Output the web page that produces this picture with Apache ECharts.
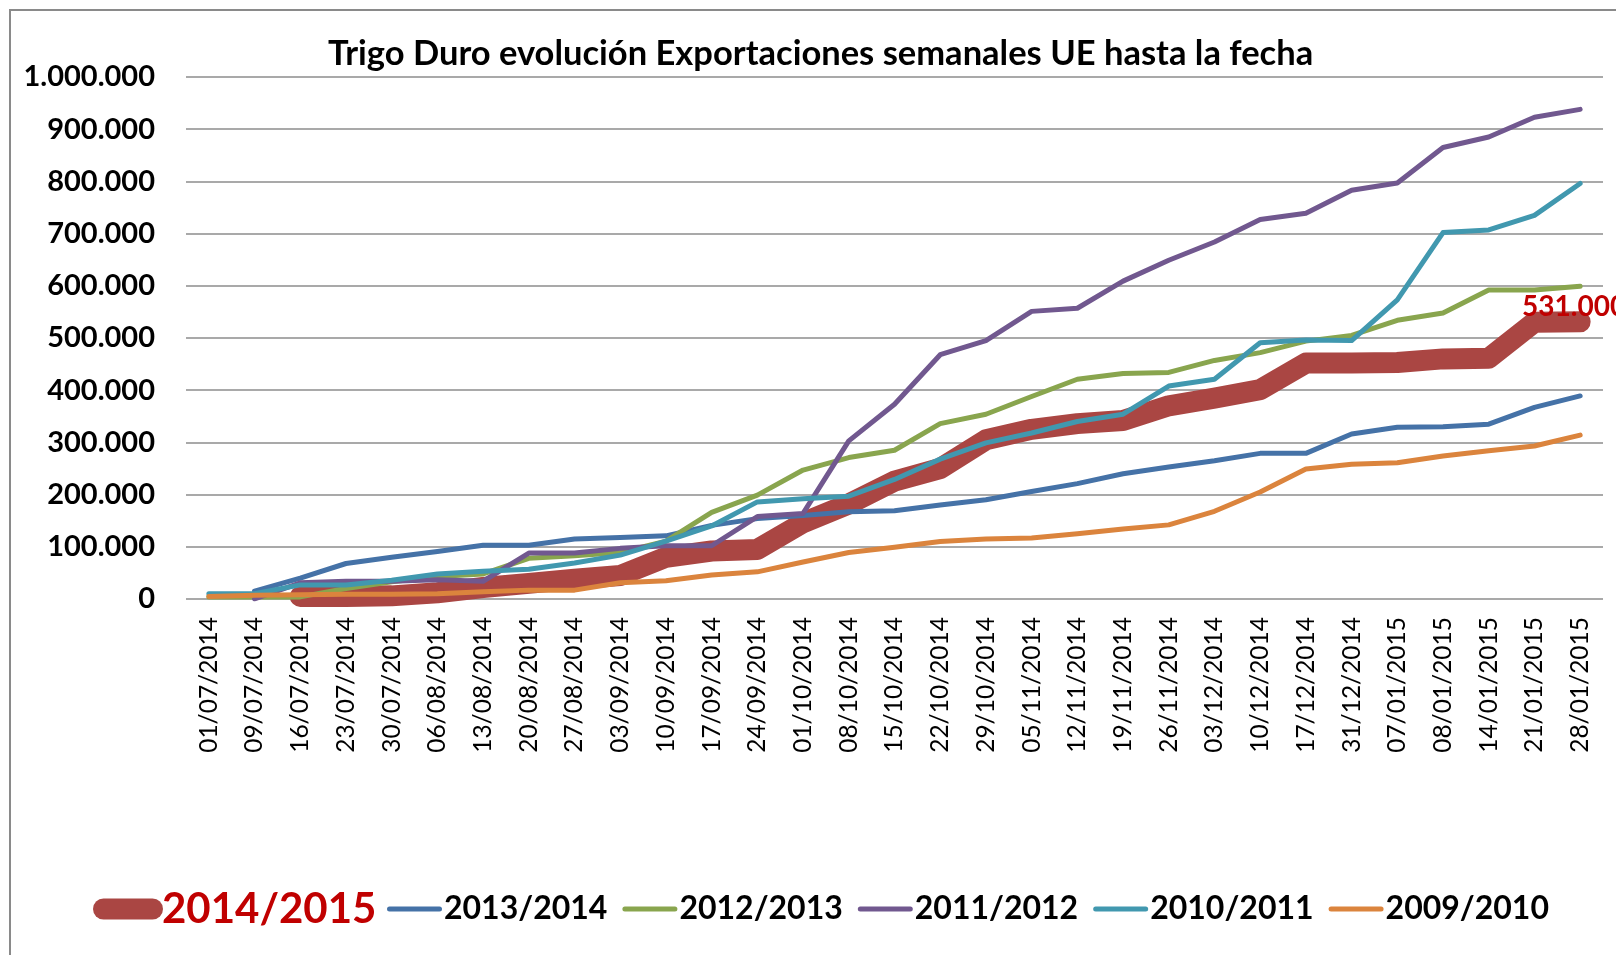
<!DOCTYPE html>
<html>
<head>
<meta charset="utf-8">
<title>Trigo Duro evolución Exportaciones semanales UE hasta la fecha</title>
<script src="https://cdn.jsdelivr.net/npm/echarts@6/dist/echarts.min.js"></script>
<style>
html,body{margin:0;padding:0;background:#fff;overflow:hidden;}
#frame{position:absolute;left:9px;top:9px;width:1700px;height:1000px;border-left:2px solid #8a8a8a;border-top:2px solid #8a8a8a;}
#chart{position:absolute;left:0;top:0;width:1616px;height:955px;}
</style>
</head>
<body>
<div id="frame"></div>
<div id="chart"></div>
<script>
// fechas de las semanas
var semanas = ["01/07/2014","09/07/2014","16/07/2014","23/07/2014","30/07/2014","06/08/2014","13/08/2014","20/08/2014","27/08/2014","03/09/2014","10/09/2014","17/09/2014","24/09/2014","01/10/2014","08/10/2014","15/10/2014","22/10/2014","29/10/2014","05/11/2014","12/11/2014","19/11/2014","26/11/2014","03/12/2014","10/12/2014","17/12/2014","31/12/2014","07/01/2015","08/01/2015","14/01/2015","21/01/2015","28/01/2015"];

// toneladas acumuladas por campaña
var c2014_2015 = [null,null,5000,5000,6000,12000,22000,30000,38000,45000,80000,92000,95000,146000,182000,226000,250000,305000,325000,336000,342000,370000,385000,401000,452000,452000,453000,460000,461000,530000,531000];
var c2013_2014 = [null,15000,40000,68000,80000,91000,103000,103000,115000,118000,121000,141000,154000,160000,167000,169000,180000,190000,206000,221000,240000,253000,265000,279000,279000,316000,329000,330000,335000,367000,389000];
var c2012_2013 = [4000,4000,4000,20000,33000,43000,48000,78000,83000,89000,111000,166000,199000,247000,271000,285000,336000,354000,388000,421000,432000,434000,457000,472000,494000,505000,534000,548000,592000,592000,599000];
var c2011_2012 = [null,0,31000,34000,34000,37000,34000,88000,88000,97000,102000,102000,158000,164000,303000,373000,468000,495000,551000,557000,609000,649000,684000,727000,739000,783000,797000,865000,885000,923000,938000];
var c2010_2011 = [10000,10000,27000,27000,36000,48000,53000,57000,69000,84000,111000,140000,186000,192000,197000,229000,268000,299000,318000,340000,354000,408000,421000,491000,496000,495000,573000,702000,707000,735000,796000];
var c2009_2010 = [5000,7000,8000,9000,9000,10000,14000,17000,17000,31000,35000,46000,52000,71000,89000,99000,110000,115000,117000,125000,134000,142000,168000,205000,249000,258000,261000,274000,284000,293000,314000];

var campanas = ["2014/2015","2013/2014","2012/2013","2011/2012","2010/2011","2009/2010"];
var colores = ["#AA4643","#4572A7","#89A54E","#71588F","#4198AF","#DB843D"];

function fmtNum(v){
	return String(v).replace(/\B(?=(\d{3})+(?!\d))/g, '.');
}

var myChart = echarts.init(document.getElementById('chart'));
var fuente = 'Lato, "Open Sans", sans-serif';
var ultimo = semanas.length - 1;

function serie(nombre, datos, color, ancho){
	return {
		name: nombre,
		type: 'line',
		data: datos,
		symbol: 'none',
		connectNulls: false,
		lineStyle: { color: color, width: ancho, cap: 'round', join: 'round' },
		itemStyle: { color: color },
		emphasis: { disabled: true },
		animation: false
	};
}

var rojo = serie(campanas[0], c2014_2015, colores[0], 21);
rojo.markPoint = {
	symbol: 'circle',
	symbolSize: 0,
	animation: false,
	data: [{ coord: [semanas[ultimo], c2014_2015[ultimo]], value: c2014_2015[ultimo] }],
	label: {
		show: true,
		position: 'top',
		distance: 1,
		offset: [-6, 0],
		color: '#C00000',
		fontFamily: fuente,
		fontWeight: 'bold',
		fontSize: 28,
		formatter: function(p){ return fmtNum(p.value); }
	}
};

var thinIcon = 'path://M2.5,0 h50 a2.5,2.5 0 0 1 0,5 h-50 a2.5,2.5 0 0 1 0,-5z';
var bigIcon = 'path://M10.5,0 h49 a10.5,10.5 0 0 1 0,21 h-49 a10.5,10.5 0 0 1 0,-21z';

var option = {
	backgroundColor: 'transparent',
	title: {
		text: 'Trigo Duro evolución Exportaciones semanales UE hasta la fecha',
		left: 328,
		top: 36,
		padding: 0,
		textStyle: { fontFamily: fuente, fontWeight: 'bold', fontSize: 34.5, color: '#000' }
	},
	legend: [{
		data: [{ name: campanas[0], icon: bigIcon, itemStyle: { color: colores[0] } }],
		left: 88,
		top: 883,
		itemWidth: 70,
		itemHeight: 21,
		selectedMode: false,
		textStyle: { fontFamily: fuente, fontWeight: 'bold', fontSize: 42, color: '#C00000', padding: [0, 0, 0, -6] }
	}, {
		data: campanas.slice(1).map(function(n, i){
			return { name: n, icon: thinIcon, itemStyle: { color: colores[i + 1] } };
		}),
		left: 382,
		top: 888,
		itemWidth: 55,
		itemHeight: 32,
		itemGap: 15,
		selectedMode: false,
		textStyle: { fontFamily: fuente, fontWeight: 'bold', fontSize: 32, color: '#000', padding: [0, 0, 0, -3] }
	}],
	grid: { left: 186, right: 13, top: 77, bottom: 356, containLabel: false },
	xAxis: {
		type: 'category',
		data: semanas,
		boundaryGap: true,
		axisLine: { show: false },
		axisTick: { show: false },
		axisLabel: {
			interval: 0,
			rotate: 90,
			margin: 18,
			fontFamily: fuente,
			fontSize: 24.5,
			color: '#000'
		}
	},
	yAxis: {
		type: 'value',
		min: 0,
		max: 1000000,
		interval: 100000,
		axisLine: { show: false },
		axisTick: { show: false },
		splitLine: { lineStyle: { color: '#8c8c8c', width: 1.5 } },
		axisLabel: {
			margin: 31,
			fontFamily: fuente,
			fontWeight: 'bold',
			fontSize: 29,
			color: '#000',
			formatter: function(v){ return fmtNum(v); }
		}
	},
	series: [
		rojo,
		serie(campanas[1], c2013_2014, colores[1], 5),
		serie(campanas[2], c2012_2013, colores[2], 5),
		serie(campanas[3], c2011_2012, colores[3], 5),
		serie(campanas[4], c2010_2011, colores[4], 5),
		serie(campanas[5], c2009_2010, colores[5], 5)
	]
};

myChart.setOption(option);
</script>
</body>
</html>
